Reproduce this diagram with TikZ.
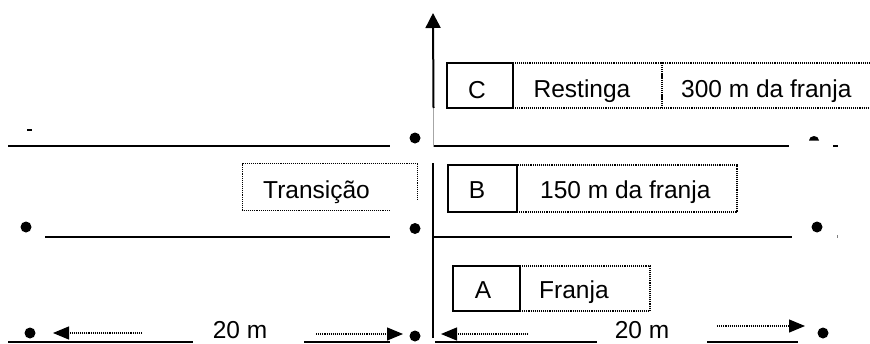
\documentclass[tikz,border=0pt]{standalone}
\usepackage{fontspec}
\setmainfont{Liberation Sans}
\usetikzlibrary{arrows.meta}
\tikzset{
  solidbox/.style={draw, line width=2.4pt, inner sep=0pt},
  dotbox/.style={draw, line width=1.2pt, dash pattern=on 1.1pt off 1pt, inner sep=0pt},
  dotline/.style={line width=1.2pt, dash pattern=on 1.1pt off 1pt},
  groundline/.style={line width=1.8pt},
  txt/.style={inner sep=0pt, anchor=base, font=\fontsize{24.5}{28}\selectfont},
  txtw/.style={txt, anchor=base west},
  pt/.style={circle, fill=black, inner sep=0pt, minimum size=11pt},
  tip/.style={-{Triangle[length=16pt,width=13pt]}},
}
\begin{document}
\begin{tikzpicture}[x=1pt,y=-1pt]
\useasboundingbox (0,0) rectangle (870,343);
\clip (0,0) rectangle (870,343);

% dotted boxes
\node[dotbox, minimum width=149pt, minimum height=45pt] (R) at (587.5,85.5) {};
\node[dotbox, minimum width=218pt, minimum height=45pt] (F3) at (771,85.5) {};
\node[dotbox, minimum width=220pt, minimum height=47pt] (F150) at (627,188.5) {};
\node[dotbox, minimum width=130pt, minimum height=45pt] (Fr) at (585,288.5) {};
\node[minimum width=174pt, minimum height=46pt, inner sep=0pt] (T) at (330,187) {};
\draw[dotline] ([xshift=147pt]T.south west) -- (T.south west) -- (T.north west)
  -- (T.north east) -- ([yshift=10pt]T.south east);

% solid boxes
\node[solidbox, minimum width=66pt, minimum height=45pt] (C) at (480,85.5) {};
\node[solidbox, minimum width=69pt, minimum height=47pt] (B) at (482.5,188.5) {};
\node[solidbox, minimum width=67pt, minimum height=45pt] (A) at (486.5,288.5) {};

% texts
\node[txt] (tC) at (477,98) {C};
\node[txt] (tR) at (582,97) {Restinga};
\node[txtw] (t300) at (681,97) {300 m da franja};
\node[txtw] (tT) at (263,198) {Transição};
\node[txt] (tB) at (477,198) {B};
\node[txtw] (t150) at (540,198) {150 m da franja};
\node[txt] (tA) at (483,298) {A};
\node[txtw] (tFr) at (539,298) {Franja};
\node[txt] (t20a) at (240,338.5) {20 m};
\node[txt] (t20b) at (642,338.5) {20 m};

% vertical axis
\coordinate (ax0) at (432.5,338);
\coordinate (ax1) at (432.5,163);
\coordinate (ax2) at (433.5,147);
\coordinate (ax3) at (433.5,108);
\coordinate (ax4) at (433,13);
\draw[line width=2pt] (ax0) -- (ax1);
\draw[line width=0.6pt, gray!70] (ax2) -- (ax3);
\draw[line width=2pt, -{Triangle[length=15pt,width=15pt]}] (ax3) -- (ax4);

% horizontal lines
\coordinate (l1a) at (8,146);   \coordinate (l1b) at (390,146);
\coordinate (r1a) at (434,146); \coordinate (r1b) at (789,146);
\coordinate (l2a) at (45,237);  \coordinate (l2b) at (390,237);
\coordinate (r2a) at (434,237); \coordinate (r2b) at (792,237);
\draw[groundline] (l1a) -- (l1b);
\draw[groundline] (r1a) -- (r1b);
\draw[groundline] (l2a) -- (l2b);
\draw[groundline] (r2a) -- (r2b);
\coordinate (b1a) at (8,342);   \coordinate (b1b) at (193,342);
\coordinate (b2a) at (304,342); \coordinate (b2b) at (390,342);
\coordinate (b3a) at (435,342); \coordinate (b3b) at (597,342);
\coordinate (b4a) at (707,342); \coordinate (b4b) at (798,342);
\draw[groundline] (b1a) -- (b1b);
\draw[groundline] (b2a) -- (b2b);
\draw[groundline] (b3a) -- (b3b);
\draw[groundline] (b4a) -- (b4b);

% dots
\node[pt] (d1) at (415,138) {};
\node[pt] (d2) at (26,227) {};
\node[pt] (d3) at (415,228.5) {};
\node[pt] (d4) at (817,227) {};
\node[pt] (d5) at (30,333) {};
\node[pt] (d6) at (415,336) {};
\node[pt] (d7) at (823,333) {};
% clipped dot remnants
\fill (809,140.5) arc[start angle=180, end angle=360, x radius=5, y radius=4.5] -- cycle;
\draw[line width=1.5pt] (27,130) -- (32,130);
\draw[line width=1.5pt] (833,146) -- (838,146);
\draw[line width=0.6pt, gray] (837,235) -- (837,238);

% 20 m arrows
\coordinate (a1s) at (142,333); \coordinate (a1e) at (53,333);
\coordinate (a2s) at (316,334); \coordinate (a2e) at (403,334);
\coordinate (a3s) at (528,334); \coordinate (a3e) at (441,334);
\coordinate (a4s) at (717,326); \coordinate (a4e) at (805,326);
\draw[dotline, tip] (a1s) -- (a1e);
\draw[dotline, tip] (a2s) -- (a2e);
\draw[dotline, tip] (a3s) -- (a3e);
\draw[dotline, tip] (a4s) -- (a4e);
\end{tikzpicture}
\end{document}
